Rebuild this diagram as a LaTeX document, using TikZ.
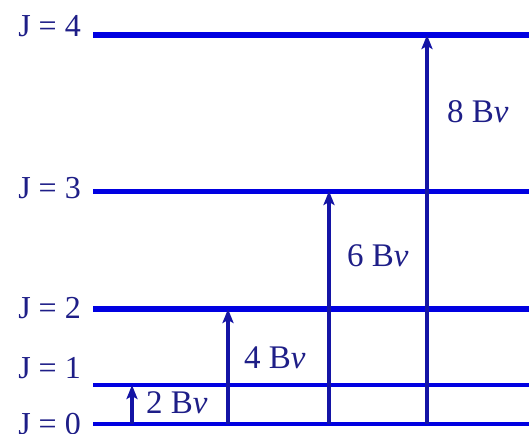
\documentclass[tikz,border=0pt]{standalone}
\usepackage{fontspec}
\setmainfont{Liberation Serif}
\usetikzlibrary{arrows.meta}
\definecolor{levelblue}{RGB}{0,0,225}
\definecolor{labelnavy}{RGB}{30,30,135}
\definecolor{arrownavy}{RGB}{20,20,165}
\tikzset{
  level/.style={levelblue,line width=5pt},
  jlabel/.style={anchor=east,inner sep=0pt,text=labelnavy,font=\fontsize{32}{32}\selectfont},
  transition/.style={arrownavy,line width=3.2pt,-{Stealth[length=14pt,width=11pt,inset=3pt]}},
  tlabel/.style={anchor=west,inner sep=0pt,text=labelnavy,font=\fontsize{33}{33}\selectfont}
}
\begin{document}
\begin{tikzpicture}[x=1pt,y=-1pt,line cap=butt]
  \useasboundingbox (0,0) rectangle (529,433);
  \foreach \j/\y/\w/\ty in {0/424/4/424,1/385/4/368,2/309/5.5/308,3/191/5/188,4/35/5.5/26} {
    \coordinate (L\j) at (93,\y);
    \coordinate (R\j) at (529,\y);
    \draw[level,line width=\w pt] (L\j) -- (R\j);
    \node[jlabel] (J\j) at (81,\ty) {J = \j};
  }
  \foreach \j/\x in {1/132,2/228,3/329,4/427} {
    \coordinate (b\j) at (\x,424);
    \coordinate (t\j) at (b\j |- L\j);
    \draw[transition] (b\j) -- (t\j);
  }
  \node[tlabel] (e1) at (146,403) {2 B\textit{ν}};
  \node[tlabel] (e2) at (244,358) {4 B\textit{ν}};
  \node[tlabel] (e3) at (347,256) {6 B\textit{ν}};
  \node[tlabel] (e4) at (447,112) {8 B\textit{ν}};
\end{tikzpicture}
\end{document}
